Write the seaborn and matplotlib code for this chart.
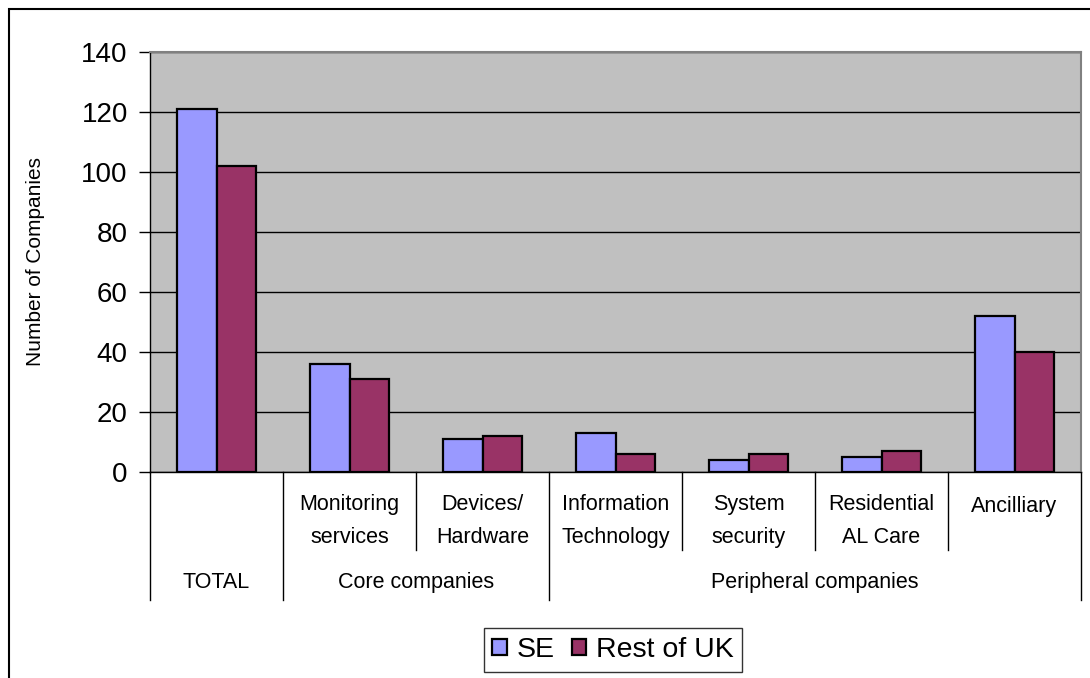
import matplotlib
matplotlib.use("Agg")
import matplotlib.pyplot as plt
import matplotlib.transforms as mtransforms
from matplotlib.patches import Rectangle
import pandas as pd
import seaborn as sns

# Companies by segment, South East vs rest of the UK
categories = ["TOTAL", "Monitoring\nservices", "Devices/\nHardware",
              "Information\nTechnology", "System\nsecurity",
              "Residential\nAL Care", "Ancilliary"]
se_counts = [121, 36, 11, 13, 4, 5, 52]
rest_uk_counts = [102, 31, 12, 6, 6, 7, 40]
series_names = ["SE", "Rest of UK"]
series_colors = ["#9999FF", "#993366"]

# Upper grouping level of the category axis: (label, first index, last index)
groups = [("TOTAL", 0, 0), ("Core companies", 1, 2), ("Peripheral companies", 3, 6)]
yticks = [0, 20, 40, 60, 80, 100, 120, 140]

plt.rcParams["font.family"] = ["Liberation Sans", "DejaVu Sans"]

df = pd.DataFrame({
    "category": categories * 2,
    "count": se_counts + rest_uk_counts,
    "region": [series_names[0]] * len(categories) + [series_names[1]] * len(categories),
})

fig = plt.figure(figsize=(10.9, 6.78), dpi=100)
fig.patch.set_facecolor("white")
ax = fig.add_axes([150 / 1090, 1 - 472 / 678, 931 / 1090, 420 / 678])
ax.set_facecolor("#C0C0C0")

sns.barplot(data=df, x="category", y="count", hue="region", order=categories,
            hue_order=series_names, palette=series_colors, width=0.59,
            edgecolor="black", linewidth=1.6, saturation=1, ax=ax)

ax.set_xlim(-0.5, len(categories) - 0.5)
ax.set_ylim(0, 140)
ax.set_yticks(yticks)
ax.set_axisbelow(True)
ax.yaxis.grid(True, color="black", linewidth=1)
ax.xaxis.grid(False)
ax.tick_params(axis="y", direction="out", length=8, width=1, labelsize=20, pad=8)
ax.set_xticks([])
ax.set_xlabel("")
ax.set_ylabel("Number of Companies", fontsize=15)
ax.yaxis.set_label_coords(-0.113, 0.5)

for side in ("top", "right"):
    ax.spines[side].set_color("#808080")
    ax.spines[side].set_linewidth(1.5)
for side in ("left", "bottom"):
    ax.spines[side].set_color("black")
    ax.spines[side].set_linewidth(1)

# Two-level category table below the axis
trans = mtransforms.blended_transform_factory(ax.transData, ax.transAxes)
group_edges = {g[1] - 0.5 for g in groups} | {groups[-1][2] + 0.5}
for b in [i - 0.5 for i in range(len(categories) + 1)]:
    bottom = -0.305 if b in group_edges else -0.186
    ax.plot([b, b], [0, bottom], color="black", linewidth=1,
            transform=trans, clip_on=False)

for i, cat in enumerate(categories):
    if cat == "TOTAL":
        continue
    ypos = -0.117 if "\n" in cat else -0.082
    ax.text(i, ypos, cat, transform=trans, ha="center", va="center",
            fontsize=15.5, linespacing=1.75)

for label, start, end in groups:
    ax.text((start + end) / 2, -0.264, label, transform=trans,
            ha="center", va="center", fontsize=15.5)

handles, labels = ax.get_legend_handles_labels()
ax.get_legend().remove()
leg = fig.legend(handles, labels, loc="center",
                 bbox_to_anchor=(613 / 1090, 1 - 650 / 678), ncol=2,
                 fontsize=20.5, frameon=True, fancybox=False, edgecolor="black",
                 handlelength=0.5, handleheight=0.5, handletextpad=0.35,
                 columnspacing=0.6, borderpad=0.3)
leg.get_frame().set_linewidth(1)

# Chart-area border
fig.patches.append(Rectangle((9 / 1090, -0.1), 1.2, 1 - 9 / 678 + 0.1,
                             transform=fig.transFigure, fill=False,
                             edgecolor="black", linewidth=1.5))

fig.savefig("out.png", dpi=100, facecolor="white")
